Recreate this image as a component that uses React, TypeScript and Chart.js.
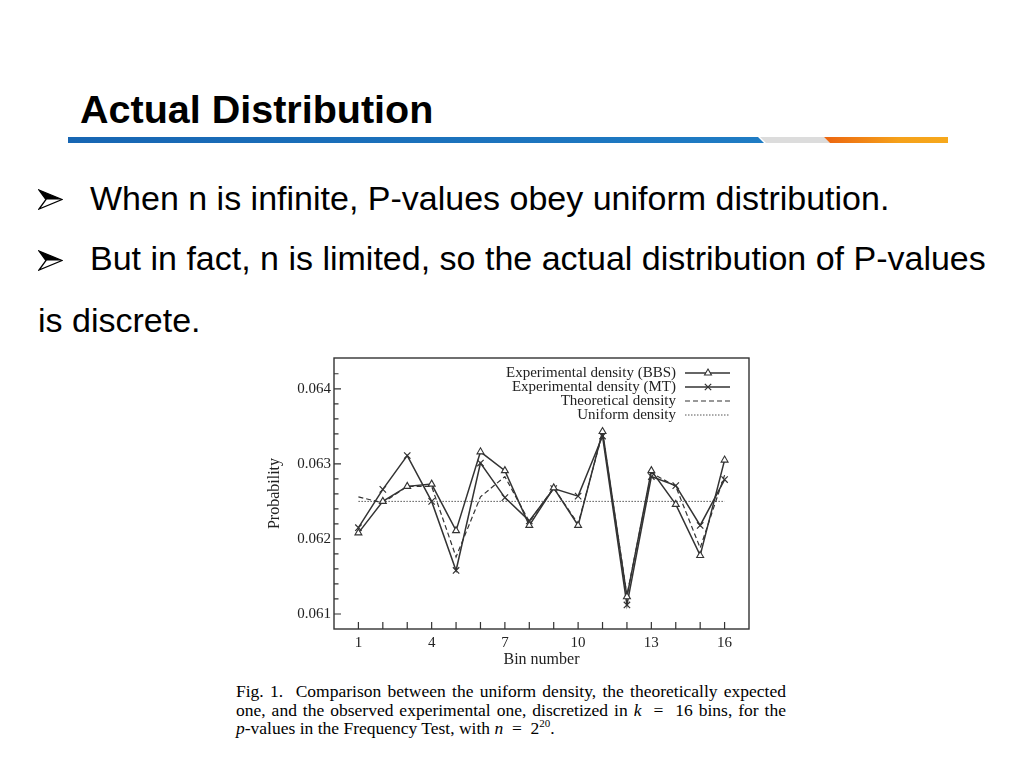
import React, { useEffect, useRef } from 'react';
import { Chart, registerables } from 'chart.js';
import { drawPoint } from 'chart.js/helpers';

Chart.register(...registerables);

// ── data ─────────────────────────────────────────────────────────
const BINS = [1, 2, 3, 4, 5, 6, 7, 8, 9, 10, 11, 12, 13, 14, 15, 16];
const BBS = [0.06208, 0.0625, 0.0627, 0.06273, 0.06211, 0.06316, 0.06291, 0.06218,
  0.06268, 0.06218, 0.06343, 0.06123, 0.06291, 0.06246, 0.06178, 0.06305];
const MT = [0.06215, 0.06266, 0.06311, 0.0625, 0.06158, 0.06301, 0.06255, 0.06224,
  0.06267, 0.06257, 0.06337, 0.06112, 0.06283, 0.06271, 0.06218, 0.06279];
const THEORY = [0.06256, 0.06248, 0.0627, 0.0627, 0.06176, 0.06256, 0.06283, 0.06223,
  0.06268, 0.0622, 0.06341, 0.06125, 0.06288, 0.0627, 0.06188, 0.06285];
const UNIFORM = [0.0625, 0.0625, 0.0625, 0.0625, 0.0625, 0.0625, 0.0625, 0.0625,
  0.0625, 0.0625, 0.0625, 0.0625, 0.0625, 0.0625, 0.0625, 0.0625];
const NAMES = ['Experimental density (BBS)', 'Experimental density (MT)', 'Theoretical density', 'Uniform density'];
const X_LABELS = [1, 4, 7, 10, 13, 16];
const Y_LABELS = [0.061, 0.062, 0.063, 0.064];

const INK = '#333';
const SERIF = "'Liberation Serif', 'DejaVu Serif', serif";
const SANS = "'Liberation Sans', Arial, sans-serif";

const pts = (vals: number[]) => BINS.map((b, i) => ({ x: b, y: vals[i] }));
const isMajor = (v: number) => Y_LABELS.some(l => Math.abs(l - v) < 1e-7);

// frame round the plot + inward tick marks
const framePlugin = {
  id: 'frame',
  beforeDatasetsDraw(chart: any) {
    const { ctx, chartArea: a, scales } = chart;
    ctx.save();
    ctx.strokeStyle = INK;
    ctx.lineWidth = 1.2;
    ctx.beginPath();
    scales.x.ticks.forEach((t: any) => {
      if (t.value < BINS[0] || t.value > BINS[BINS.length - 1]) return;
      const px = scales.x.getPixelForValue(t.value);
      ctx.moveTo(px, a.bottom);
      ctx.lineTo(px, a.bottom - 7);
    });
    scales.y.ticks.forEach((t: any) => {
      const py = scales.y.getPixelForValue(t.value);
      if (py > a.bottom - 1 || py < a.top + 1) return;
      ctx.moveTo(a.left, py);
      ctx.lineTo(a.left + (isMajor(t.value) ? 7 : 4.5), py);
    });
    ctx.stroke();
    ctx.lineWidth = 1.4;
    ctx.strokeRect(a.left, a.top, a.right - a.left, a.bottom - a.top);
    ctx.restore();
  },
};

// legend inside the plot, text on the left of the sample
const legendPlugin = {
  id: 'insideLegend',
  afterDraw(chart: any) {
    const { ctx, chartArea: a } = chart;
    ctx.save();
    ctx.font = `15px ${SERIF}`;
    ctx.textAlign = 'right';
    ctx.textBaseline = 'middle';
    chart.data.datasets.forEach((ds: any, i: number) => {
      const y = a.top + 15 + i * 14;
      ctx.fillStyle = '#222';
      ctx.fillText(ds.label, a.right - 73, y);
      ctx.strokeStyle = ds.borderColor;
      ctx.lineWidth = ds.borderWidth;
      ctx.setLineDash(ds.borderDash || []);
      ctx.beginPath();
      ctx.moveTo(a.right - 64, y);
      ctx.lineTo(a.right - 19, y);
      ctx.stroke();
      ctx.setLineDash([]);
      if (ds.pointRadius > 0) {
        ctx.fillStyle = ds.pointBackgroundColor;
        ctx.strokeStyle = ds.pointBorderColor;
        ctx.lineWidth = ds.pointBorderWidth;
        drawPoint(ctx, { pointStyle: ds.pointStyle, radius: ds.pointRadius, borderWidth: ds.pointBorderWidth, rotation: 0 }, a.right - 41, y);
      }
    });
    ctx.restore();
  },
};

const DensityChart: React.FC = () => {
  const ref = useRef<HTMLCanvasElement>(null);
  const chartRef = useRef<Chart | null>(null);

  useEffect(() => {
    if (!ref.current) return;
    chartRef.current?.destroy();
    chartRef.current = new Chart(ref.current, {
      type: 'line',
      data: {
        datasets: [
          {
            label: NAMES[0], data: pts(BBS),
            borderColor: INK, borderWidth: 1.5,
            pointStyle: 'triangle', pointRadius: 4,
            pointBackgroundColor: '#fff', pointBorderColor: INK, pointBorderWidth: 1.1,
          },
          {
            label: NAMES[1], data: pts(MT),
            borderColor: INK, borderWidth: 1.5,
            pointStyle: 'crossRot', pointRadius: 4.5,
            pointBackgroundColor: '#fff', pointBorderColor: INK, pointBorderWidth: 1.2,
          },
          {
            label: NAMES[2], data: pts(THEORY),
            borderColor: INK, borderWidth: 1.2, borderDash: [5, 3], pointRadius: 0,
          },
          {
            label: NAMES[3], data: pts(UNIFORM),
            borderColor: '#555', borderWidth: 1, borderDash: [1.5, 1.5], pointRadius: 0,
          },
        ],
      },
      options: {
        animation: false,
        responsive: true, maintainAspectRatio: false,
        layout: { padding: { left: 0, top: 6, right: 13, bottom: 0 } },
        plugins: { legend: { display: false }, tooltip: { enabled: false } },
        scales: {
          x: {
            type: 'linear', min: 0, max: 17,
            grid: { display: false, drawTicks: false },
            border: { display: false },
            ticks: {
              stepSize: 1, autoSkip: false, maxRotation: 0, padding: 5, color: '#222',
              font: { family: SERIF, size: 15 },
              callback: (v: any) => (X_LABELS.includes(Number(v)) ? String(v) : ''),
            },
            title: { display: true, text: 'Bin number', color: '#222', font: { family: SERIF, size: 16 }, padding: { top: 0, bottom: 3 } },
            afterFit: (s: any) => { s.height = 43; s.paddingLeft = 0; s.paddingRight = 0; },
          },
          y: {
            type: 'linear', min: 0.0608, max: 0.06441,
            grid: { display: false, drawTicks: false },
            border: { display: false },
            ticks: {
              stepSize: 0.0002, autoSkip: false, includeBounds: false, padding: 3, color: '#222',
              font: { family: SERIF, size: 15 },
              callback: (v: any) => (isMajor(Number(v)) ? Number(v).toFixed(3) : ''),
            },
            title: { display: true, text: 'Probability', color: '#222', font: { family: SERIF, size: 16 }, padding: { top: 3, bottom: 0 } },
            afterFit: (s: any) => { s.width = 72; s.paddingTop = 0; s.paddingBottom = 0; },
          },
        },
      },
      plugins: [framePlugin, legendPlugin],
    } as any);
    return () => chartRef.current?.destroy();
  }, []);

  return <canvas ref={ref} />;
};

const abs = (left: number, top: number, extra: React.CSSProperties = {}): React.CSSProperties => ({
  position: 'absolute', left, top, whiteSpace: 'nowrap', ...extra,
});

const Arrow: React.FC<{ top: number }> = ({ top }) => (
  <svg style={abs(38, top)} width={25} height={21} viewBox="0 0 25 21">
    <path d="M1 1 L24 10.5 L1 20 L8 10.5 Z" fill="#fff" stroke="#000" strokeWidth={1.3} strokeLinejoin="miter" />
    <path d="M1 1 L24 10.5 L8 10.5 Z" fill="#000" />
  </svg>
);

const bulletText: React.CSSProperties = { fontFamily: SANS, fontSize: 34, lineHeight: '34px', color: '#000' };
const capLine: React.CSSProperties = {
  width: 550, fontFamily: SERIF, fontSize: 17.5, lineHeight: '18.5px', color: '#000',
  textAlign: 'justify', textAlignLast: 'justify', whiteSpace: 'nowrap',
};

export default function App() {
  return (
    <div style={{ position: 'absolute', left: 0, top: 0, width: 1024, height: 768, background: '#fff', overflow: 'hidden' }}>
      <div style={abs(80, 89, { fontFamily: SANS, fontWeight: 700, fontSize: 39.5, lineHeight: '40px', color: '#000' })}>
        Actual Distribution
      </div>

      {/* header rule */}
      <div style={abs(68, 137, { width: 696, height: 6, background: 'linear-gradient(90deg,#1766b3,#1f7cc4)', clipPath: 'polygon(0 0, 690px 0, 696px 100%, 0 100%)' })} />
      <div style={abs(760, 137, { width: 70, height: 6, background: '#dcdcdc', clipPath: 'polygon(0 0, 64px 0, 70px 100%, 6px 100%)' })} />
      <div style={abs(824, 137, { width: 124, height: 6, background: 'linear-gradient(90deg,#ec6510,#f5a11a 60%,#f6a81c)', clipPath: 'polygon(0 0, 124px 0, 124px 100%, 6px 100%)' })} />

      <Arrow top={189} />
      <div style={abs(90, 180.5, bulletText)}>When n is infinite, P-values obey uniform distribution.</div>
      <Arrow top={250} />
      <div style={abs(90, 240.5, bulletText)}>But in fact, n is limited, so the actual distribution of P-values</div>
      <div style={abs(38, 303, bulletText)}>is discrete.</div>

      <div style={abs(262, 352, { width: 500, height: 320 })}>
        <DensityChart />
      </div>

      <div style={abs(236, 682, { width: 550, whiteSpace: 'normal' })}>
        <div style={capLine}>Fig. 1.&nbsp; Comparison between the uniform density, the theoretically expected</div>
        <div style={capLine}>one, and the observed experimental one, discretized in <i>k</i> &nbsp;=&nbsp; 16 bins, for the</div>
        <div style={{ ...capLine, textAlign: 'left', textAlignLast: 'left' }}>
          <i>p</i>-values in the Frequency Test, with <i>n</i> &nbsp;=&nbsp; 2<span style={{ fontSize: 11, position: 'relative', top: -7 }}>20</span>.
        </div>
      </div>
    </div>
  );
}
